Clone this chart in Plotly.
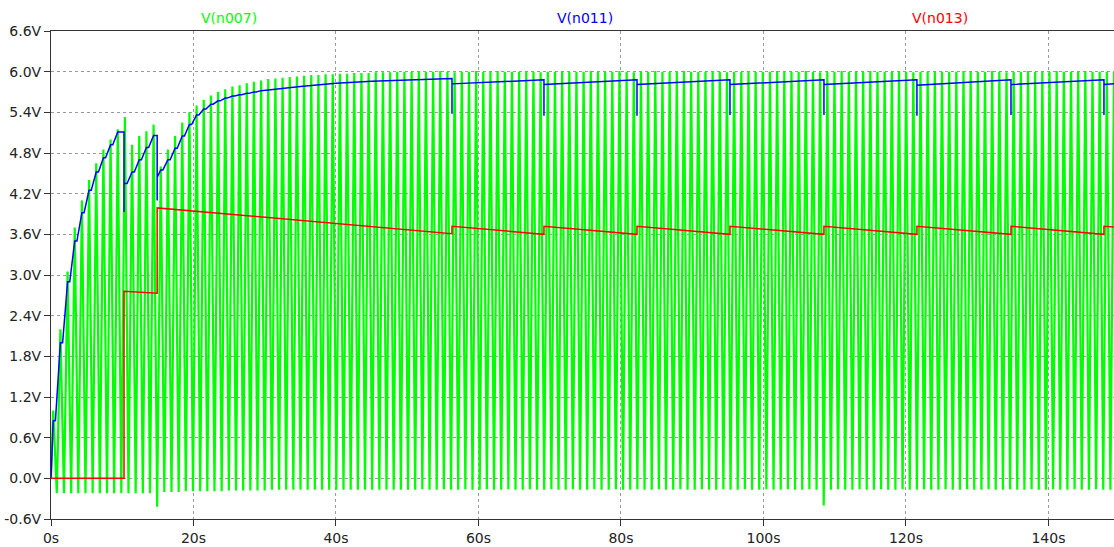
import plotly.graph_objects as go

# ---------------- data ----------------
# V(n007): oscillation, one peak and one trough per cycle
period = 1.006          # s per cycle
first_peak = 0.313      # s
first_trough = 0.816    # s

green_peaks = [
    1.00, 2.20, 3.05, 3.70, 4.10, 4.40, 4.65, 4.85, 5.00, 5.15,
    5.33, 4.92, 5.05, 5.12, 5.22, 4.60, 4.85, 5.05, 5.25, 5.40,
    5.50, 5.58, 5.65, 5.70, 5.74, 5.78, 5.80, 5.83, 5.85, 5.87,
    5.89, 5.90, 5.91, 5.92, 5.93, 5.94, 5.95, 5.95, 5.96, 5.96,
    5.97, 5.97, 5.98, 5.98, 5.98, 5.99, 5.99, 5.99, 6.00, 6.00,
    6.00, 6.01, 6.00, 6.00, 6.01, 6.00, 5.99, 6.00, 6.00, 6.01,
    6.00, 6.00, 6.01, 6.00, 6.00, 6.00, 6.01, 6.00, 5.99, 6.00,
    6.00, 6.01, 6.00, 6.00, 6.00, 6.01, 6.00, 6.00, 6.00, 6.01,
    6.00, 5.99, 6.00, 6.00, 6.01, 6.00, 6.00, 6.00, 6.01, 6.00,
    6.00, 6.00, 6.01, 6.00, 5.99, 6.00, 6.00, 6.01, 6.00, 6.00,
    6.00, 6.01, 6.00, 6.00, 6.00, 6.01, 6.00, 5.99, 6.00, 6.00,
    6.01, 6.00, 6.00, 6.00, 6.01, 6.00, 6.00, 6.00, 6.01, 6.00,
    5.99, 6.00, 6.00, 6.01, 6.00, 6.00, 6.00, 6.01, 6.00, 6.00,
    6.00, 6.01, 6.00, 5.99, 6.00, 6.00, 6.01, 6.00, 6.00, 6.00,
    6.01, 6.00, 6.00, 6.00, 6.01, 6.00, 6.00, 6.00, 6.00,
]
green_troughs = [
    -0.22, -0.22, -0.22, -0.22, -0.22, -0.22, -0.22, -0.22, -0.22, -0.22,
    -0.22, -0.22, -0.22, -0.22, -0.42, -0.20, -0.20, -0.20, -0.19, -0.19,
    -0.19, -0.19, -0.19, -0.19, -0.18, -0.18, -0.18, -0.18, -0.18, -0.18,
    -0.17, -0.17, -0.17, -0.17, -0.17, -0.17, -0.17, -0.17, -0.17, -0.17,
    -0.17, -0.17, -0.17, -0.17, -0.17, -0.17, -0.17, -0.17, -0.17, -0.17,
    -0.17, -0.16, -0.17, -0.17, -0.16, -0.17, -0.17, -0.16, -0.17, -0.17,
    -0.16, -0.17, -0.17, -0.16, -0.17, -0.17, -0.16, -0.17, -0.17, -0.16,
    -0.17, -0.17, -0.16, -0.17, -0.17, -0.16, -0.17, -0.17, -0.16, -0.17,
    -0.17, -0.16, -0.17, -0.17, -0.16, -0.17, -0.17, -0.16, -0.17, -0.17,
    -0.16, -0.17, -0.17, -0.16, -0.17, -0.17, -0.16, -0.17, -0.17, -0.16,
    -0.17, -0.17, -0.16, -0.17, -0.17, -0.16, -0.17, -0.40, -0.17, -0.16,
    -0.17, -0.17, -0.16, -0.17, -0.17, -0.16, -0.17, -0.17, -0.16, -0.17,
    -0.17, -0.16, -0.17, -0.17, -0.16, -0.17, -0.17, -0.16, -0.17, -0.17,
    -0.16, -0.17, -0.17, -0.16, -0.17, -0.17, -0.16, -0.17, -0.17, -0.16,
    -0.17, -0.17, -0.16, -0.17, -0.17, -0.16, -0.17, -0.17,
]

# V(n011): charge-up phase, value reached at each charging step
blue_step_t = [0.31, 1.32, 2.33, 3.33, 4.34, 5.34, 6.35, 7.36, 8.36, 9.37,
               11.38, 12.39, 13.39, 14.40,
               15.40, 16.41, 17.42, 18.42, 19.43, 20.43, 21.44, 22.45, 23.45,
               24.46, 25.46, 26.47, 27.48, 28.48, 29.49, 30.50]
blue_step_v = [0.85, 2.00, 2.90, 3.50, 3.92, 4.25, 4.52, 4.73, 4.92, 5.11,
               4.52, 4.70, 4.88, 5.06,
               4.55, 4.70, 4.87, 5.05, 5.22, 5.36, 5.45, 5.52, 5.57,
               5.61, 5.64, 5.66, 5.68, 5.70, 5.72, 5.73]
# early discharge events of V(n011): time, low value, value right after
early_dip_t = [10.25, 14.90]
early_dip_low = [3.93, 4.10]
early_dip_post = [4.35, 4.44]
ramp = 0.7  # s, duration of each charging ramp
# V(n011): smooth approach
blue_smooth_t = [35.0, 40.0, 45.0, 50.0]
blue_smooth_v = [5.78, 5.83, 5.86, 5.88]
# discharge events (shared by V(n011) dips and V(n013) jumps)
dip_times = [56.28, 69.19, 82.25, 95.30, 108.49, 121.54, 134.74, 147.79]
blue_pre = [5.90, 5.88, 5.88, 5.88, 5.88, 5.88, 5.88, 5.88]
blue_low = [5.38, 5.35, 5.35, 5.36, 5.36, 5.35, 5.36, 5.36]
blue_post = [5.82, 5.81, 5.81, 5.81, 5.81, 5.80, 5.81, 5.81]
blue_end = 5.82

# V(n013)
red_start_t = [0.0, 10.25, 10.25, 14.90, 14.90]
red_start_v = [0.0, 0.0, 2.76, 2.73, 3.99]
red_pre = [3.61, 3.60, 3.60, 3.60, 3.60, 3.60, 3.60, 3.60]
red_post = [3.72, 3.72, 3.72, 3.72, 3.72, 3.72, 3.72, 3.72]
red_end = 3.71

t_end = 149.2
x_ticks = [0, 20, 40, 60, 80, 100, 120, 140]
x_labels = ["0s", "20s", "40s", "60s", "80s", "100s", "120s", "140s"]
y_ticks = [-0.6, 0.0, 0.6, 1.2, 1.8, 2.4, 3.0, 3.6, 4.2, 4.8, 5.4, 6.0, 6.6]
y_labels = ["-0.6V", "0.0V", "0.6V", "1.2V", "1.8V", "2.4V", "3.0V", "3.6V",
            "4.2V", "4.8V", "5.4V", "6.0V", "6.6V"]
series_names = ["V(n007)", "V(n011)", "V(n013)"]
series_colors = ["#00ff00", "#0000ff", "#ff0000"]

# ---------------- build polylines ----------------
gx, gy = [0.0], [0.0]
for k, p in enumerate(green_peaks):
    gx.append(first_peak + k * period)
    gy.append(p)
    if k < len(green_troughs):
        gx.append(first_trough + k * period)
        gy.append(green_troughs[k])

# blue: charging ramps + dips
events = [(t, "step", v) for t, v in zip(blue_step_t, blue_step_v)]
events += [(t, "dip", (lo, po)) for t, lo, po in zip(early_dip_t, early_dip_low, early_dip_post)]
events.sort(key=lambda e: e[0])
bx, by = [0.0], [0.0]
cur = 0.0
for t, kind, val in events:
    if kind == "step":
        bx += [max(t - ramp, bx[-1]), t]
        by += [cur, val]
        cur = val
    else:
        bx += [t, t, t]
        by += [cur, val[0], val[1]]
        cur = val[1]
bx += blue_smooth_t
by += blue_smooth_v
for d, a, lo, b in zip(dip_times, blue_pre, blue_low, blue_post):
    bx += [d, d, d]
    by += [a, lo, b]
bx.append(t_end)
by.append(blue_end)

rx, ry = list(red_start_t), list(red_start_v)
for d, a, b in zip(dip_times, red_pre, red_post):
    rx += [d, d]
    ry += [a, b]
rx.append(t_end)
ry.append(red_end)

fig = go.Figure()
fig.add_trace(go.Scatter(x=gx, y=gy, mode="lines",
                         line=dict(color=series_colors[0], width=2.2),
                         name=series_names[0], showlegend=False))
fig.add_trace(go.Scatter(x=bx, y=by, mode="lines",
                         line=dict(color=series_colors[1], width=1.5),
                         name=series_names[1], showlegend=False))
fig.add_trace(go.Scatter(x=rx, y=ry, mode="lines",
                         line=dict(color=series_colors[2], width=1.5),
                         name=series_names[2], showlegend=False))

label_pos = [25.0, 74.95, 124.8]
for name, col, xp in zip(series_names, series_colors, label_pos):
    fig.add_annotation(x=xp, xref="x", y=1, yref="paper", text=name,
                       showarrow=False, yanchor="middle", yshift=13,
                       font=dict(color=col, size=14, family="DejaVu Sans"))

fig.update_layout(
    width=1114, height=547,
    margin=dict(l=51, r=0, t=31, b=28),
    paper_bgcolor="white", plot_bgcolor="white",
    font=dict(family="DejaVu Sans", size=14, color="#222222"),
    xaxis=dict(range=[0, t_end], tickvals=x_ticks, ticktext=x_labels,
               showgrid=True, gridcolor="#9a9a9a", griddash="dot", gridwidth=1,
               showline=True, linecolor="#333333", linewidth=1, mirror=True,
               ticks="outside", ticklen=6, tickcolor="#333333",
               zeroline=False, fixedrange=True, automargin=False),
    yaxis=dict(range=[-0.6, 6.6], tickvals=y_ticks, ticktext=y_labels,
               showgrid=True, gridcolor="#9a9a9a", griddash="dot", gridwidth=1,
               showline=True, linecolor="#333333", linewidth=1,
               ticks="outside", ticklen=6, tickcolor="#333333",
               zeroline=False, fixedrange=True, automargin=False),
)

# remove the default page margin so the figure fills the window exactly
fig.write_html("out.html",
               config={"displayModeBar": False},
               post_script="document.body.style.margin='0';"
                           "document.body.style.overflow='hidden';")
